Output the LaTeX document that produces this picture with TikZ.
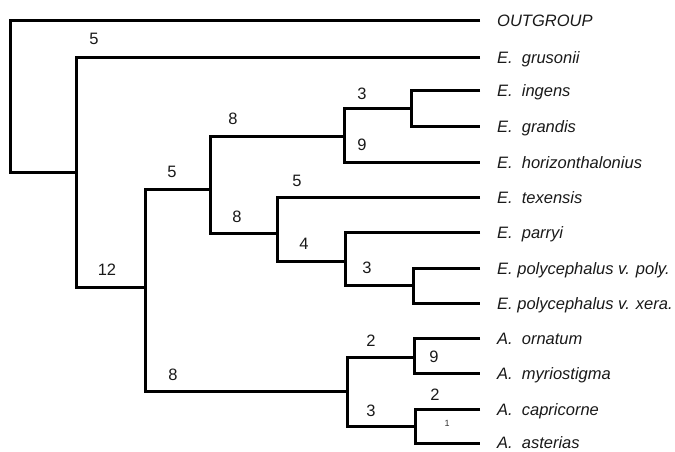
\documentclass[tikz,border=0pt]{standalone}
\usepackage{fontspec}
\setmainfont{Liberation Sans}
\begin{document}
\begin{tikzpicture}[x=1pt,y=-1pt,
  branch/.style={line width=3pt, black},
  leaf/.style={anchor=base west, inner sep=0pt, font=\fontsize{16.5}{18}\selectfont\itshape, text=black!90},
  num/.style={anchor=center, inner sep=0pt, font=\fontsize{16.5}{18}\selectfont, text=black!90},
  tiny/.style={anchor=center, inner sep=0pt, font=\fontsize{9}{10}\selectfont, text=black!80}]
\useasboundingbox (0,0) rectangle (675,451);
% internal nodes
\coordinate (r)  at (10,172);
\coordinate (n1) at (76,172);
\coordinate (nA) at (145,287);
\coordinate (nB) at (210,189);
\coordinate (nC) at (344,136);
\coordinate (nD) at (411,108);
\coordinate (nE) at (277,233);
\coordinate (nF) at (345,261);
\coordinate (nG) at (413,285);
\coordinate (nH) at (347,391);
\coordinate (nI) at (414,357);
\coordinate (nJ) at (415,426);
% leaf line ends
\coordinate (lOUT) at (480,20);
\coordinate (lGRU) at (480,57);
\coordinate (lING) at (480,90);
\coordinate (lGRA) at (480,126);
\coordinate (lHOR) at (480,162);
\coordinate (lTEX) at (480,197);
\coordinate (lPAR) at (480,232);
\coordinate (lPOL) at (480,268);
\coordinate (lXER) at (480,303);
\coordinate (lORN) at (480,338);
\coordinate (lMYR) at (480,373);
\coordinate (lCAP) at (480,409);
\coordinate (lAST) at (480,443);
% branches
\draw[branch] (lOUT) -| (r) -- (n1);
\draw[branch] (lGRU) -| (n1) |- (nA);
\draw[branch] (nB) -| (nA) |- (nH);
\draw[branch] (nC) -| (nB) |- (nE);
\draw[branch] (nD) -| (nC) |- (lHOR);
\draw[branch] (lING) -| (nD) |- (lGRA);
\draw[branch] (lTEX) -| (nE) |- (nF);
\draw[branch] (lPAR) -| (nF) |- (nG);
\draw[branch] (lPOL) -| (nG) |- (lXER);
\draw[branch] (nI) -| (nH) |- (nJ);
\draw[branch] (lORN) -| (nI) |- (lMYR);
\draw[branch] (lCAP) -| (nJ) |- (lAST);
% leaf labels
\node[leaf] (tOUT) at (497,26) {OUTGROUP};
\node[leaf] (tGRU) at (497,63) {E.\hspace{0.55em}grusonii};
\node[leaf] (tING) at (497,96) {E.\hspace{0.55em}ingens};
\node[leaf] (tGRA) at (497,132) {E.\hspace{0.55em}grandis};
\node[leaf] (tHOR) at (497,168) {E.\hspace{0.55em}horizonthalonius};
\node[leaf] (tTEX) at (497,203) {E.\hspace{0.55em}texensis};
\node[leaf] (tPAR) at (497,238) {E.\hspace{0.55em}parryi};
\node[leaf] (tPOL) at (497,274) {E. polycephalus v. poly.};
\node[leaf] (tXER) at (497,309) {E. polycephalus v. xera.};
\node[leaf] (tORN) at (497,344) {A.\hspace{0.55em}ornatum};
\node[leaf] (tMYR) at (497,379) {A.\hspace{0.55em}myriostigma};
\node[leaf] (tCAP) at (497,415) {A.\hspace{0.55em}capricorne};
\node[leaf] (tAST) at (497,448) {A.\hspace{0.55em}asterias};
% branch numbers
\node[num] (k1)  at (94,39)   {5};
\node[num] (k2)  at (107,270) {12};
\node[num] (k3)  at (172,172) {5};
\node[num] (k4)  at (173,375) {8};
\node[num] (k5)  at (233,119) {8};
\node[num] (k6)  at (362,94)  {3};
\node[num] (k7)  at (362,145) {9};
\node[num] (k8)  at (237,217) {8};
\node[num] (k9)  at (297,181) {5};
\node[num] (k10) at (304,244) {4};
\node[num] (k11) at (367,268) {3};
\node[num] (k12) at (371,341) {2};
\node[num] (k13) at (434,357) {9};
\node[num] (k14) at (371,411) {3};
\node[num] (k15) at (435,395) {2};
\node[tiny] (k16) at (447,423) {1};
\end{tikzpicture}
\end{document}
